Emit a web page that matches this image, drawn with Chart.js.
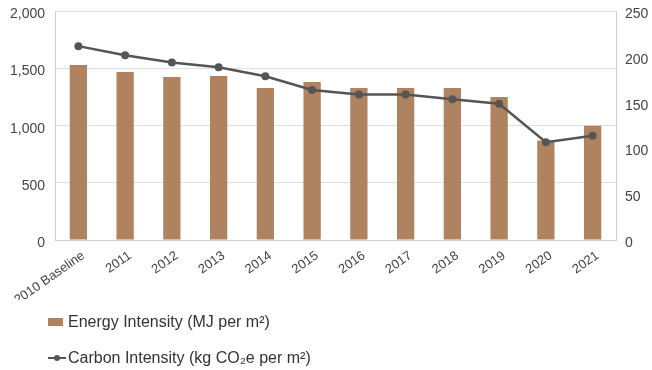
<!DOCTYPE html>
<html>
<head>
<meta charset="utf-8">
<script src="https://cdn.jsdelivr.net/npm/chart.js@4/dist/chart.umd.min.js"></script>
<style>
  html, body { margin: 0; padding: 0; background: #fff; overflow: hidden; }
  #wrap { position: relative; width: 652px; height: 370px; overflow: hidden; }
  #chart { position: absolute; left: 0; top: -7px; }
  #legend { position: absolute; left: 48px; top: 311px; font-family: "Liberation Sans", Arial, sans-serif; font-size: 16px; color: #333; }
  .item { position: absolute; left: 0; white-space: nowrap; height: 20px; line-height: 20px; }
  .item span.txt { position: absolute; left: 20px; top: 0; }
  .box { position: absolute; left: 0; top: 6px; width: 15px; height: 8px; background: #b08360; }
  .ln { position: absolute; left: 0; top: 9px; width: 18px; height: 2px; background: #555; }
  .dot { position: absolute; left: 6px; top: 7px; width: 6px; height: 6px; border-radius: 50%; background: #555; }
</style>
</head>
<body>
<div id="wrap">
  <canvas id="chart" width="652" height="377"></canvas>
  <div id="legend">
    <div class="item" style="top:1px"><div class="box"></div><span class="txt">Energy Intensity (MJ per m²)</span></div>
    <div class="item" style="top:37px"><div class="ln"></div><div class="dot"></div><span class="txt">Carbon Intensity (kg CO₂e per m²)</span></div>
  </div>
</div>
<script>
const TEXT = "#444";
const GRID = "#dedede";

const years  = ["2010 Baseline", "2011", "2012", "2013", "2014", "2015", "2016", "2017", "2018", "2019", "2020", "2021"];
const energy = [1530, 1470, 1426, 1435, 1330, 1383, 1330, 1330, 1330, 1252, 870, 1000];
const carbon = [212, 202, 194, 189, 179, 164, 159, 159, 154, 149, 107, 114];

const font  = { family: "'Liberation Sans', Arial, sans-serif", size: 14 };
const xfont = { family: "'Liberation Sans', Arial, sans-serif", size: 13 };

new Chart(document.getElementById("chart"), {
  type: "bar",
  data: {
    labels: years,
    datasets: [
      {
        type: "line",
        label: "Carbon Intensity (kg CO₂e per m²)",
        data: carbon,
        yAxisID: "y1",
        borderColor: "#555",
        backgroundColor: "#555",
        borderWidth: 2.5,
        pointRadius: 4,
        pointBackgroundColor: "#555",
        pointBorderWidth: 0,
        tension: 0,
        order: 0,
      },
      {
        label: "Energy Intensity (MJ per m²)",
        data: energy,
        yAxisID: "y",
        backgroundColor: "#b08360",
        barPercentage: 0.74,
        categoryPercentage: 0.5,
        order: 1,
      },
    ],
  },
  options: {
    responsive: false,
    animation: false,
    layout: { padding: { top: 0, left: 0, right: 0, bottom: 70 } },
    plugins: { legend: { display: false }, tooltip: { enabled: false } },
    scales: {
      x: {
        grid: { display: false },
        border: { display: true, color: "#cfcfcf" },
        ticks: { color: TEXT, font: xfont, maxRotation: 35, minRotation: 35, padding: 0, labelOffset: 5 },
        afterFit: s => { s.height = 60; },
      },
      y: {
        position: "left",
        min: 0, max: 2000,
        grid: { color: GRID, drawTicks: false },
        border: { display: true, color: "#cfcfcf" },
        ticks: { color: TEXT, font, stepSize: 500, padding: 10, labelOffset: 3 },
        afterFit: s => { s.width = 55; },
      },
      y1: {
        position: "right",
        min: 0, max: 250,
        grid: { display: false, drawTicks: false },
        border: { display: true, color: "#cfcfcf" },
        ticks: { color: TEXT, font, stepSize: 50, padding: 9, labelOffset: 3 },
        afterFit: s => { s.width = 36; },
      },
    },
  },
});
</script>
</body>
</html>
